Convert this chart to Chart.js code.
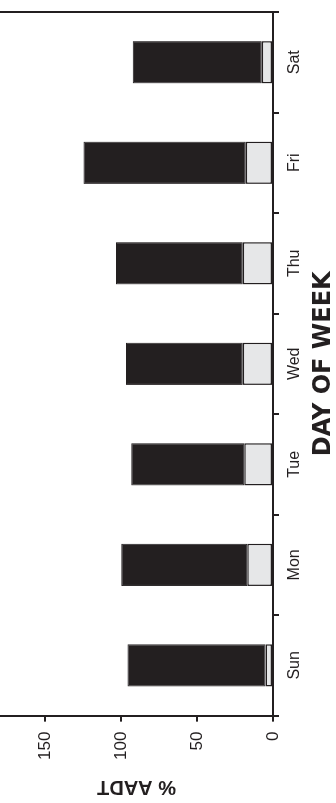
<!DOCTYPE html>
<html>
<head>
<meta charset="utf-8">
<script src="https://cdn.jsdelivr.net/npm/chart.js@4.4.1/dist/chart.umd.min.js"></script>
<style>
    html, body { margin: 0; padding: 0; background: #fff; overflow: hidden; }
    body { width: 336px; height: 803px; position: relative; }
    /* the chart is drawn upright and then turned a quarter turn to the left */
    #wrap {
        position: absolute; left: 0; top: 0;
        width: 803px; height: 336px;
        transform-origin: 0 0;
        transform: translateY(803px) rotate(-90deg);
    }
</style>
</head>
<body>
<div id="wrap"><canvas id="chart" width="803" height="336"></canvas></div>
<script>
// Data
const days = ['Sun', 'Mon', 'Tue', 'Wed', 'Thu', 'Fri', 'Sat'];
const lowerPart = [5, 17, 19, 20, 20, 18, 7.5];      // light grey segment
const upperPart = [91, 83, 74.5, 77, 83.5, 107, 85]; // black segment
const valueTicks = [0, 50, 100, 150];

const ink = '#231f20';
const grey = '#e6e7e8';
const fontFamily = '"Liberation Sans", Arial, sans-serif';

// right side frame line
const frameLine = {
    id: 'frameLine',
    afterDraw(chart) {
        const { ctx, chartArea } = chart;
        ctx.save();
        ctx.strokeStyle = ink;
        ctx.lineWidth = 2;
        ctx.beginPath();
        ctx.moveTo(chartArea.right, 0);
        ctx.lineTo(chartArea.right, chartArea.bottom);
        ctx.stroke();
        ctx.restore();
    }
};

const ctx = document.getElementById('chart').getContext('2d');
new Chart(ctx, {
    type: 'bar',
    data: {
        labels: days,
        datasets: [
            {
                label: 'lower',
                data: lowerPart,
                backgroundColor: grey,
                borderColor: ink,
                borderWidth: 1.5,
                borderSkipped: false
            },
            {
                label: 'upper',
                data: upperPart,
                backgroundColor: ink,
                borderColor: ink,
                borderWidth: 1,
                borderSkipped: false
            }
        ]
    },
    options: {
        responsive: false,
        animation: false,
        events: [],
        layout: { padding: { top: 0, right: 12, left: 4, bottom: 0 } },
        datasets: { bar: { categoryPercentage: 1, barPercentage: 0.42 } },
        plugins: {
            legend: { display: false },
            tooltip: { enabled: false }
        },
        scales: {
            x: {
                stacked: true,
                grid: { drawOnChartArea: false, drawTicks: true, tickLength: 6, color: ink, lineWidth: 2 },
                border: { display: true, color: ink, width: 2 },
                ticks: { color: ink, padding: 6, font: { family: fontFamily, size: 16, lineHeight: 1.25 } },
                title: {
                    display: true,
                    text: 'DAY OF WEEK',
                    color: ink,
                    padding: { top: 1, bottom: 0 },
                    font: { family: '"DejaVu Sans", sans-serif', size: 24, weight: 'bold', lineHeight: 1 }
                }
            },
            y: {
                stacked: true,
                min: 0,
                max: 180,
                afterBuildTicks: (axis) => {
                    axis.ticks = valueTicks.map(v => ({ value: v }));
                },
                // the axis runs off the top edge of the picture, no room kept for a top label
                afterFit: (axis) => {
                    axis.paddingTop = 0;
                },
                grid: { drawOnChartArea: false, drawTicks: true, tickLength: 6, color: ink, lineWidth: 2 },
                border: { display: true, color: ink, width: 2 },
                ticks: { color: ink, padding: 10, font: { family: fontFamily, size: 17 } },
                title: {
                    display: true,
                    text: '% AADT',
                    color: ink,
                    padding: { top: 0, bottom: 5 },
                    font: { family: fontFamily, size: 20, weight: 'bold' }
                }
            }
        }
    },
    plugins: [frameLine]
});
</script>
</body>
</html>
